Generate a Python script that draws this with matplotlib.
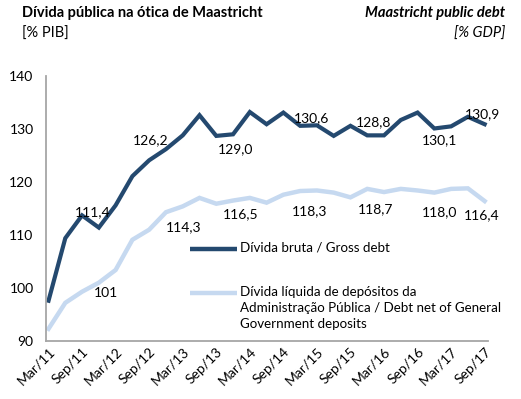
import matplotlib
matplotlib.use("Agg")
import matplotlib.pyplot as plt

# quarterly observations, Mar/11 .. Sep/17
quarters = [
    "Mar/11", "Jun/11", "Sep/11", "Dec/11",
    "Mar/12", "Jun/12", "Sep/12", "Dec/12",
    "Mar/13", "Jun/13", "Sep/13", "Dec/13",
    "Mar/14", "Jun/14", "Sep/14", "Dec/14",
    "Mar/15", "Jun/15", "Sep/15", "Dec/15",
    "Mar/16", "Jun/16", "Sep/16", "Dec/16",
    "Mar/17", "Jun/17", "Sep/17",
]
gross_debt = [
    97.6, 109.4, 113.7, 111.4,
    115.6, 121.1, 124.1, 126.2,
    128.8, 132.6, 128.7, 129.0,
    133.2, 130.9, 133.1, 130.6,
    130.7, 128.7, 130.6, 128.8,
    128.8, 131.7, 133.1, 130.1,
    130.5, 132.3, 130.9,
]
net_debt = [
    92.3, 97.2, 99.3, 101.0,
    103.4, 109.1, 111.0, 114.3,
    115.4, 117.0, 115.9, 116.5,
    117.0, 116.1, 117.6, 118.3,
    118.4, 118.0, 117.1, 118.7,
    118.1, 118.7, 118.4, 118.0,
    118.7, 118.8, 116.4,
]
label_idx = [3, 7, 11, 15, 19, 23, 26]
gross_lbl = ["111,4", "126,2", "129,0", "130,6", "128,8", "130,1", "130,9"]
net_lbl = ["101", "114,3", "116,5", "118,3", "118,7", "118,0", "116,4"]
series_names = [
    "Dívida bruta / Gross debt",
    "Dívida líquida de depósitos da\nAdministração Pública / Debt net of General\nGovernment deposits",
]

# label offsets in pixels (dx, dy up)
gross_off = [(-6, 15), (-15, 9), (3, -15), (11, 8), (6, 13), (5, -12), (-2, 10)]
net_off = [(7, -10), (18, -15), (8, -14), (9, -20), (8, -20), (5, -20), (-3, -14)]

dark = "#24496F"
light = "#C6D9F0"
grey = "#A6A6A6"

plt.rcParams["font.family"] = ["Lato", "DejaVu Sans"]

fig = plt.figure(figsize=(5.21, 3.99), dpi=100)
ax = fig.add_axes([0.0883, 0.1454, 0.8484, 0.6641])

x = list(range(len(quarters)))
ax.plot(x, gross_debt, color=dark, lw=3, solid_joinstyle="miter")
ax.plot(x, net_debt, color=light, lw=3.2, solid_joinstyle="miter")

px = 0.72
for i, t, (dx, dy) in zip(label_idx, gross_lbl, gross_off):
    ax.annotate(t, (i, gross_debt[i]), xytext=(dx * px, dy * px), textcoords="offset points",
                ha="center", va="center", fontsize=10)
for i, t, (dx, dy) in zip(label_idx, net_lbl, net_off):
    ax.annotate(t, (i, net_debt[i]), xytext=(dx * px, dy * px), textcoords="offset points",
                ha="center", va="center", fontsize=10)

ax.set_ylim(90, 140)
ax.set_yticks([90, 100, 110, 120, 130, 140])
ax.set_xlim(-0.15, 26.2)
ax.set_xticks(x[::2])
ax.set_xticklabels(quarters[::2], rotation=45, ha="right", rotation_mode="anchor", fontsize=10)
ax.tick_params(axis="y", length=0, pad=9, labelsize=10)
ax.tick_params(axis="x", length=0, pad=3)
for s in ["top", "right"]:
    ax.spines[s].set_visible(False)
for s in ["left", "bottom"]:
    ax.spines[s].set_color(grey)
    ax.spines[s].set_linewidth(1.3)

# legend drawn by hand so the handle sits on the first text line
for name, col, ly in zip(series_names, [dark, light], [0.347, 0.181]):
    ax.plot([0.326, 0.432], [ly, ly], color=col, lw=3.2, transform=ax.transAxes,
            solid_capstyle="butt", clip_on=False)
    ax.text(0.439, ly + 0.028, name, transform=ax.transAxes, fontsize=9.6, va="top",
            ha="left", linespacing=1.4)

fig.text(22 / 521, 1 - 13 / 399, "Dívida pública na ótica de Maastricht",
         fontsize=10.5, fontweight="bold", va="center", ha="left")
fig.text(22 / 521, 1 - 34 / 399, "[% PIB]", fontsize=10.5, va="center", ha="left")
fig.text(505 / 521, 1 - 13 / 399, "Maastricht public debt",
         fontsize=10.5, fontweight="bold", style="italic", va="center", ha="right")
fig.text(505 / 521, 1 - 34 / 399, "[% GDP]", fontsize=10.5, style="italic", va="center", ha="right")

fig.savefig("out.png", dpi=100)
